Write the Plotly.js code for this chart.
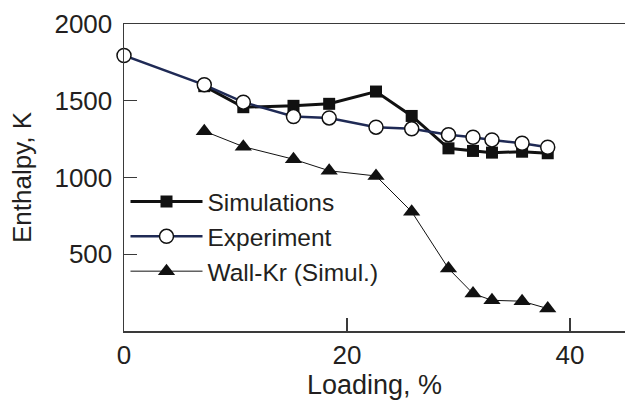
<!DOCTYPE html>
<html>
<head>
<meta charset="utf-8">
<script src="https://cdn.plot.ly/plotly-3.0.1.min.js"></script>
<style>html,body{margin:0;padding:0;background:#fff;}#chart{width:625px;height:400px;}</style>
</head>
<body>
<div id="chart"></div>
<script>
var seriesNames = ["Simulations", "Experiment", "Wall-Kr (Simul.)"];
var simX = [7.2, 10.7, 15.2, 18.4, 22.6, 25.8, 29.1, 31.3, 33.0, 35.7, 38.0];
var simY = [1595, 1458, 1467, 1480, 1560, 1401, 1190, 1173, 1162, 1168, 1158];
var expX = [0, 7.2, 10.7, 15.2, 18.4, 22.6, 25.8, 29.1, 31.3, 33.0, 35.7, 38.0];
var expY = [1795, 1604, 1491, 1397, 1388, 1328, 1317, 1279, 1262, 1245, 1223, 1197];
var wallX = [7.2, 10.7, 15.2, 18.4, 22.6, 25.8, 29.1, 31.3, 33.0, 35.7, 38.0];
var wallY = [1302, 1201, 1119, 1044, 1010, 777, 407, 244, 200, 194, 146];
var xTickVals = [0, 20, 40];
var xTickText = ["0", "20", "40"];
var yTickVals = [500, 1000, 1500, 2000];
var yTickText = ["500", "1000", "1500", "2000"];
var xTitle = "Loading, %";
var yTitle = "Enthalpy, K";

var FONT = '"Liberation Sans", Arial, Helvetica, sans-serif';
var TXT = '#231f20';

var traces = [
  {x: simX, y: simY, name: seriesNames[0], mode: 'lines+markers', cliponaxis: false,
   line: {color: '#111111', width: 3},
   marker: {symbol: 'square', size: 12, color: '#111111', line: {width: 0}}},
  {x: expX, y: expY, name: seriesNames[1], mode: 'lines+markers', cliponaxis: false,
   line: {color: '#1f2a55', width: 2.5},
   marker: {symbol: 'circle', size: 14, color: '#ffffff', line: {color: '#111111', width: 1.5}}},
  {x: wallX, y: wallY, name: seriesNames[2], mode: 'lines+markers', cliponaxis: false,
   line: {color: '#111111', width: 1},
   marker: {symbol: 'triangle-up', size: 15, color: '#111111', line: {width: 0}}}
];

var layout = {
  width: 625, height: 400,
  margin: {l: 123.5, r: 0, t: 24.3, b: 69.3},
  paper_bgcolor: '#ffffff', plot_bgcolor: '#ffffff',
  font: {family: FONT, color: TXT},
  showlegend: true,
  legend: {x: 0.003, y: 0.495, xanchor: 'left', yanchor: 'top',
           bgcolor: 'rgba(0,0,0,0)', borderwidth: 0,
           font: {family: FONT, size: 24.5, color: TXT},
           itemwidth: 72, tracegroupgap: 0},
  xaxis: {range: [0, 44.93], tickvals: xTickVals, ticktext: xTickText,
          ticks: 'inside', ticklen: 13, tickwidth: 1.3, tickcolor: '#3a3a3a',
          showline: true, linecolor: '#3a3a3a', linewidth: 1.5, mirror: true,
          showgrid: false, zeroline: false,
          tickfont: {family: FONT, size: 26, color: TXT}, ticklabelstandoff: 0,
          title: {text: xTitle, font: {family: FONT, size: 27, color: TXT}, standoff: 8}},
  yaxis: {range: [0, 2000], tickvals: yTickVals, ticktext: yTickText,
          ticks: 'inside', ticklen: 13, tickwidth: 1.3, tickcolor: '#3a3a3a',
          showline: true, linecolor: '#3a3a3a', linewidth: 1.5, mirror: false,
          showgrid: false, zeroline: false,
          tickfont: {family: FONT, size: 26, color: TXT}, ticklabelstandoff: 5,
          title: {text: yTitle, font: {family: FONT, size: 26, color: TXT}, standoff: 15}}
};

Plotly.newPlot('chart', traces, layout, {displayModeBar: false, staticPlot: true});
</script>
</body>
</html>
